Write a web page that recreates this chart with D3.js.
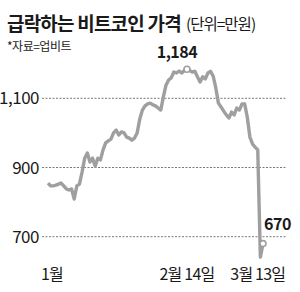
<!DOCTYPE html>
<html>
<head>
<meta charset="utf-8">
<script src="https://cdn.jsdelivr.net/npm/d3@7"></script>
<style>
  body { margin: 0; background: #fff; }
  svg { display: block; }
  text { font-family: "Liberation Sans Narrow", "Noto Sans CJK KR", sans-serif; fill: #1a1a1a; }
  .kr { font-family: "Noto Sans CJK KR", sans-serif; }
</style>
</head>
<body>
<svg class="chart"></svg>
<script>
// price in 만원, one point per trading step
var prices = [
  855, 847, 847, 849, 852, 855, 847, 838, 835, 838,
  809, 847, 852, 887, 927, 942, 916, 927, 904, 927,
  922, 951, 971, 977, 982, 1000, 1008, 994, 1003, 1000,
  988, 985, 979, 985, 1000, 1040, 1066, 1078, 1084, 1086,
  1081, 1078, 1072, 1066, 1104, 1138, 1153, 1159, 1176, 1173,
  1179, 1173, 1180, 1184, 1180, 1176, 1178, 1162, 1147, 1162,
  1156, 1173, 1178, 1164, 1130, 1086, 1075, 1063, 1052, 1043,
  1060, 1052, 1072, 1066, 1084, 1084, 1046, 988, 968, 959,
  951, 641, 680
];
var yTicks = [700, 900, 1100];
var xTickIdx = [1.5, 53, 80];
var xTickLabels = ["1월", "2월 14일", "3월 13일"];
var markIdx = [53, 82];
var markLabels = ["1,184", "670"];

var width = 300, height = 292;

var svg = d3.select(".chart").attr("width", width).attr("height", height);

var x = d3.scaleLinear().domain([0, prices.length - 1]).range([48, 263]);
var y = d3.scaleLinear().domain([700, 1100]).range([236.7, 98.3]);

// title
svg.append("text").attr("class", "kr")
  .attr("x", 7).attr("y", 31)
  .style("font-size", "19px").style("font-weight", "bold").style("letter-spacing", "-0.8px")
  .text("급락하는 비트코인 가격");
svg.append("text").attr("class", "kr")
  .attr("x", 186).attr("y", 30)
  .style("font-size", "15.5px").style("letter-spacing", "-1px")
  .text("(단위=만원)");
svg.append("text").attr("class", "kr")
  .attr("x", 7).attr("y", 51)
  .style("font-size", "12px").style("letter-spacing", "-0.5px")
  .text("*자료=업비트");

// grid
var grid = svg.append("g");
grid.selectAll("line").data(yTicks).enter().append("line")
  .attr("x1", 42).attr("x2", 287)
  .attr("y1", function(d){ return y(d); })
  .attr("y2", function(d){ return y(d); })
  .attr("stroke", "#555").attr("stroke-width", 0.8)
  .attr("stroke-dasharray", "2,1.5");

grid.selectAll("text").data(yTicks).enter().append("text")
  .attr("x", 39).attr("y", function(d){ return y(d) + 6; })
  .attr("text-anchor", "end")
  .style("font-size", "17px").style("letter-spacing", "-0.5px")
  .text(function(d){ return d3.format(",")(d); });

// x labels
svg.append("g").selectAll("text").data(xTickIdx).enter().append("text")
  .attr("x", function(d){ return x(d); }).attr("y", 280)
  .attr("text-anchor", "middle")
  .style("font-size", "16px").style("letter-spacing", "-0.8px")
  .text(function(d, i){ return xTickLabels[i]; });

// price line
var line = d3.line()
  .x(function(d, i){ return x(i); })
  .y(function(d){ return y(d); });

svg.append("path").datum(prices)
  .attr("d", line)
  .attr("fill", "none")
  .attr("stroke", "#9f9f9f")
  .attr("stroke-width", 3.4)
  .attr("stroke-linejoin", "round");

// markers
svg.append("g").selectAll("circle").data(markIdx).enter().append("circle")
  .attr("cx", function(d){ return x(d); })
  .attr("cy", function(d){ return y(prices[d]); })
  .attr("r", 3)
  .attr("fill", "#fff").attr("stroke", "#9f9f9f").attr("stroke-width", 1.6);

svg.append("text")
  .attr("x", x(markIdx[0]) - 10).attr("y", 58)
  .attr("text-anchor", "middle")
  .style("font-size", "16px").style("font-weight", "bold").style("letter-spacing", "-0.5px")
  .text(markLabels[0]);
svg.append("text")
  .attr("x", 264).attr("y", 230)
  .style("font-size", "16px").style("font-weight", "bold").style("letter-spacing", "-0.5px")
  .text(markLabels[1]);
</script>
</body>
</html>
